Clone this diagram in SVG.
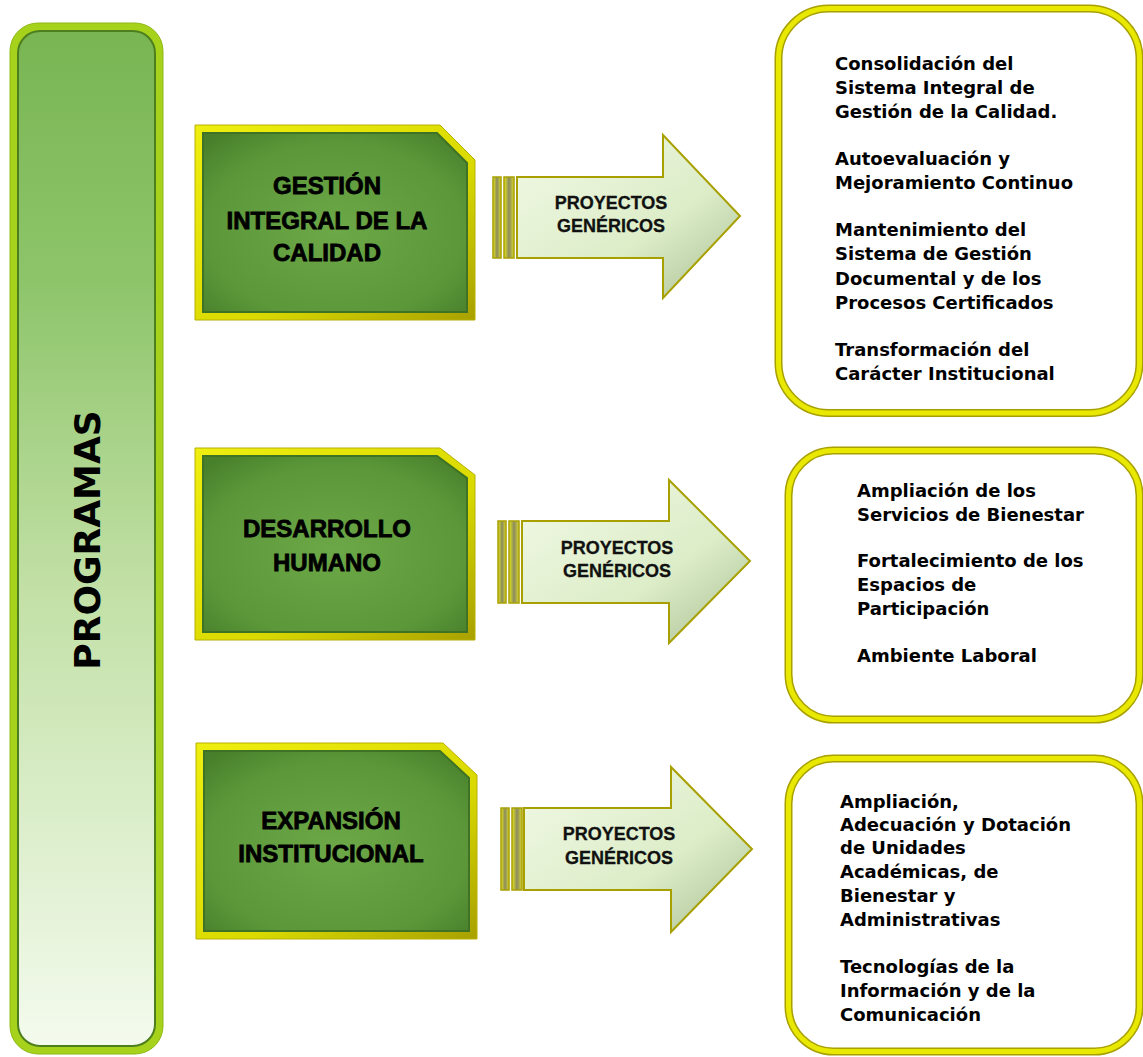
<svg xmlns="http://www.w3.org/2000/svg" width="1143" height="1057" viewBox="0 0 1143 1057">
<defs>
  <linearGradient id="progFill" x1="0" y1="0" x2="0" y2="1">
    <stop offset="0" stop-color="#79B553"/>
    <stop offset="0.25" stop-color="#8EC56B"/>
    <stop offset="0.55" stop-color="#C2E0A6"/>
    <stop offset="1" stop-color="#F4FBEE"/>
  </linearGradient>
  <radialGradient id="greenFill" cx="0.5" cy="0.55" r="0.7">
    <stop offset="0" stop-color="#6CA847"/>
    <stop offset="0.7" stop-color="#5C983A"/>
    <stop offset="1" stop-color="#477F2A"/>
  </radialGradient>
  <linearGradient id="yellowBorder" x1="0" y1="0" x2="1" y2="1">
    <stop offset="0" stop-color="#EEEE10"/>
    <stop offset="0.6" stop-color="#DADA00"/>
    <stop offset="1" stop-color="#A8A000"/>
  </linearGradient>
  <linearGradient id="arrowFill" x1="0" y1="0" x2="1" y2="1">
    <stop offset="0" stop-color="#F2F9E6"/>
    <stop offset="0.6" stop-color="#DCEDC8"/>
    <stop offset="1" stop-color="#A9BE92"/>
  </linearGradient>
  <linearGradient id="barFill" x1="0" y1="0" x2="1" y2="0">
    <stop offset="0" stop-color="#E6E620"/>
    <stop offset="0.5" stop-color="#8A8A60"/>
    <stop offset="1" stop-color="#D8D830"/>
  </linearGradient>
</defs>
<style>
  .prog-outer { fill: #A6D21C; stroke: #8DB814; stroke-width: 1; }
  .prog-inner { fill: url(#progFill); stroke: #4E7F1E; stroke-width: 2; }
  .gbox-outer { fill: url(#yellowBorder); stroke: #B8B000; stroke-width: 1; }
  .gbox-inner { fill: url(#greenFill); stroke: #3F7224; stroke-width: 2; }
  .gtext { font-family: "Liberation Sans", Arial, sans-serif; font-weight: bold; font-size: 24px; fill: #000; stroke: #000; stroke-width: 0.8; text-anchor: middle; }
  .arrow { fill: url(#arrowFill); stroke: #A8A000; stroke-width: 2; }
  .bar { fill: url(#barFill); stroke: #A8A000; stroke-width: 1.5; }
  .atext { font-family: "Liberation Sans", Arial, sans-serif; font-weight: bold; font-size: 18px; fill: #111; stroke: #111; stroke-width: 0.3; text-anchor: middle; }
  .rbox-back { fill: #fff; stroke: #A8A000; stroke-width: 8; }
  .rbox { fill: none; stroke: #E8E800; stroke-width: 5; }
  .rtext { font-family: "DejaVu Sans", Verdana, sans-serif; font-weight: bold; font-size: 18px; fill: #000; }
  .ptext { font-family: "DejaVu Sans", Verdana, sans-serif; font-weight: bold; font-size: 36px; fill: #000; text-anchor: middle; }
</style>
<rect width="1143" height="1057" fill="#fff"/>

<g id="programas">
  <rect class="prog-outer" x="10" y="23" width="153" height="1031" rx="28"/>
  <rect class="prog-inner" x="18" y="31" width="137" height="1015" rx="22"/>
  <text class="ptext" transform="translate(100,540) rotate(-90)">PROGRAMAS</text>
</g>

<g id="gestion">
  <polygon class="gbox-outer" points="195,125 440,125 475,160 475,320 195,320"/>
  <polygon class="gbox-inner" points="203,133 437,133 467,163 467,312 203,312"/>
  <text class="gtext" x="327" y="194">GESTIÓN</text>
  <text class="gtext" x="327" y="229">INTEGRAL DE LA</text>
  <text class="gtext" x="327" y="261">CALIDAD</text>
</g>

<g id="desarrollo">
  <polygon class="gbox-outer" points="195,448 440,448 475,475 475,640 195,640"/>
  <polygon class="gbox-inner" points="203,456 437,456 467,478 467,632 203,632"/>
  <text class="gtext" x="327" y="537">DESARROLLO</text>
  <text class="gtext" x="327" y="571">HUMANO</text>
</g>

<g id="expansion">
  <polygon class="gbox-outer" points="196,743 443,743 477,775 477,939 196,939"/>
  <polygon class="gbox-inner" points="204,751 440,751 469,778 469,931 204,931"/>
  <text class="gtext" x="331" y="829">EXPANSIÓN</text>
  <text class="gtext" x="331" y="862">INSTITUCIONAL</text>
</g>

<g id="connectors">
  <g id="arrow1">
    <rect class="bar" x="493" y="177" width="8" height="81"/>
    <rect class="bar" x="504" y="177" width="10" height="81"/>
    <polygon class="arrow" points="517,177 663,177 663,135 740,216 663,298 663,258 517,258"/>
    <text class="atext" x="611" y="209">PROYECTOS</text>
    <text class="atext" x="611" y="232">GENÉRICOS</text>
  </g>
  <g id="arrow2">
    <rect class="bar" x="498" y="521" width="8" height="82"/>
    <rect class="bar" x="509" y="521" width="10" height="82"/>
    <polygon class="arrow" points="522,521 669,521 669,480 750,561 669,643 669,603 522,603"/>
    <text class="atext" x="617" y="554">PROYECTOS</text>
    <text class="atext" x="617" y="577">GENÉRICOS</text>
  </g>
  <g id="arrow3">
    <rect class="bar" x="501" y="808" width="8" height="82"/>
    <rect class="bar" x="512" y="808" width="10" height="82"/>
    <polygon class="arrow" points="524,808 671,808 671,767 752,849 671,932 671,890 524,890"/>
    <text class="atext" x="619" y="840">PROYECTOS</text>
    <text class="atext" x="619" y="864">GENÉRICOS</text>
  </g>
</g>

<g id="proyectos-calidad">
  <rect class="rbox-back" x="778.5" y="8.5" width="361" height="404.5" rx="50"/>
  <rect class="rbox" x="778.5" y="8.5" width="361" height="404.5" rx="50"/>
  <text class="rtext" x="835" y="70">Consolidación del</text>
  <text class="rtext" x="835" y="94">Sistema Integral de</text>
  <text class="rtext" x="835" y="118">Gestión de la Calidad.</text>
  <text class="rtext" x="835" y="165">Autoevaluación y</text>
  <text class="rtext" x="835" y="189">Mejoramiento Continuo</text>
  <text class="rtext" x="835" y="236">Mantenimiento del</text>
  <text class="rtext" x="835" y="260">Sistema de Gestión</text>
  <text class="rtext" x="835" y="285">Documental y de los</text>
  <text class="rtext" x="835" y="309">Procesos Certificados</text>
  <text class="rtext" x="835" y="356">Transformación del</text>
  <text class="rtext" x="835" y="380">Carácter Institucional</text>
</g>

<g id="proyectos-humano">
  <rect class="rbox-back" x="788.5" y="450.5" width="351" height="269" rx="45"/>
  <rect class="rbox" x="788.5" y="450.5" width="351" height="269" rx="45"/>
  <text class="rtext" x="857" y="497">Ampliación de los</text>
  <text class="rtext" x="857" y="521">Servicios de Bienestar</text>
  <text class="rtext" x="857" y="567">Fortalecimiento de los</text>
  <text class="rtext" x="857" y="591">Espacios de</text>
  <text class="rtext" x="857" y="615">Participación</text>
  <text class="rtext" x="857" y="662">Ambiente Laboral</text>
</g>

<g id="proyectos-expansion">
  <rect class="rbox-back" x="788.5" y="758.5" width="351" height="293" rx="45"/>
  <rect class="rbox" x="788.5" y="758.5" width="351" height="293" rx="45"/>
  <text class="rtext" x="840" y="808">Ampliación,</text>
  <text class="rtext" x="840" y="831">Adecuación y Dotación</text>
  <text class="rtext" x="840" y="854">de Unidades</text>
  <text class="rtext" x="840" y="878">Académicas, de</text>
  <text class="rtext" x="840" y="902">Bienestar y</text>
  <text class="rtext" x="840" y="926">Administrativas</text>
  <text class="rtext" x="840" y="973">Tecnologías de la</text>
  <text class="rtext" x="840" y="997">Información y de la</text>
  <text class="rtext" x="840" y="1021">Comunicación</text>
</g>
</svg>
